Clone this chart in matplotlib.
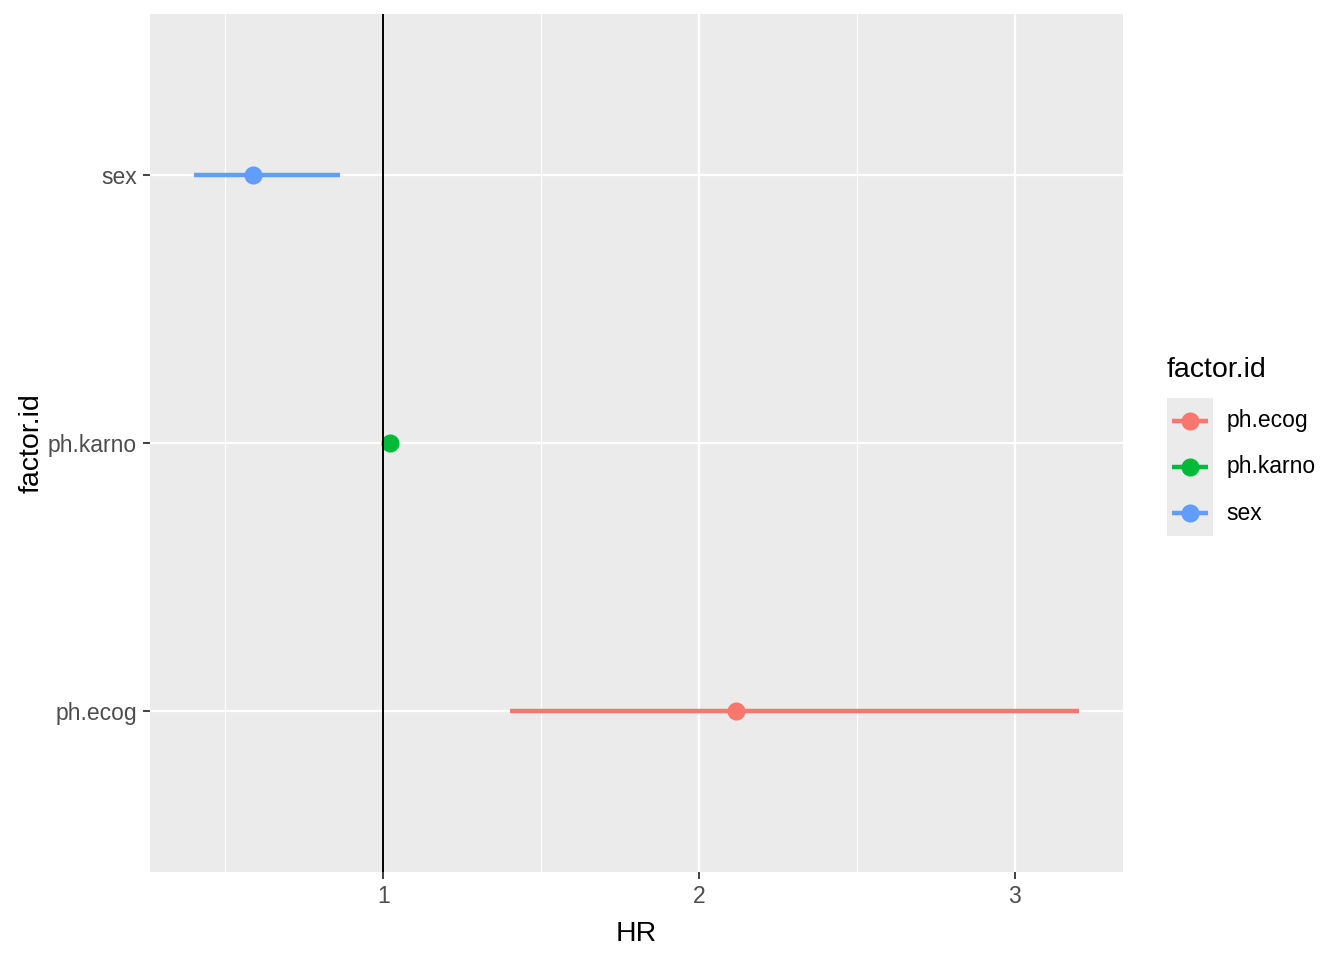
import matplotlib.pyplot as plt
from matplotlib.patches import Rectangle

plt.rcParams['font.family'] = ['Liberation Sans', 'DejaVu Sans']

# данные: HR и доверительные интервалы
factors = ['ph.ecog', 'ph.karno', 'sex']
hr = [2.116, 1.022, 0.588]
lower = [1.40, 1.005, 0.401]
upper = [3.203, 1.040, 0.864]
colors = ['#F8766D', '#00BA38', '#619CFF']

W, H = 1344, 960
fig = plt.figure(figsize=(W / 100, H / 100), dpi=100)
ax = fig.add_axes([150 / W, 1 - 872 / H, (1123 - 150) / W, (872 - 14) / H])
ax.set_facecolor('#EBEBEB')

ypos = list(range(len(factors)))
for y, c, lo, hi, h in zip(ypos, colors, lower, upper, hr):
    ax.plot([lo, hi], [y, y], color=c, lw=3.2, solid_capstyle='butt', zorder=3)
    ax.plot(h, y, 'o', color=c, ms=12, zorder=4)

ax.axvline(1, color='black', lw=1.4, zorder=5)

lo_all, hi_all = min(lower), max(upper)
pad = (hi_all - lo_all) * 0.05
ax.set_xlim(lo_all - pad, hi_all + pad)
ax.set_ylim(-0.6, len(factors) - 0.4)

ax.set_xticks([1, 2, 3])
ax.set_xticks([0.5, 1.5, 2.5], minor=True)
ax.set_yticks(ypos)
ax.set_yticklabels(factors)
ax.grid(True, which='major', color='white', lw=1.6, zorder=0)
ax.grid(True, which='minor', axis='x', color='white', lw=0.8, zorder=0)
ax.set_axisbelow(True)
for s in ax.spines.values():
    s.set_visible(False)
ax.tick_params(which='major', length=5, width=1.3, color='#333333',
               labelcolor='#4D4D4D', labelsize=16.5, pad=4.5)
ax.tick_params(which='minor', length=0)
ax.set_xlabel('HR', fontsize=20.5, labelpad=9)
ax.set_ylabel('factor.id', fontsize=20.5, labelpad=2)

# легенда
lax = fig.add_axes([1167 / W, 1 - 536 / H, 46 / W, 138 / H])
lax.set_xlim(0, 1)
lax.set_ylim(0, 3)
lax.axis('off')
lax.add_patch(Rectangle((0, 0), 1, 3, color='#EBEBEB', zorder=0))
for i, (name, c) in enumerate(zip(factors, colors)):
    yy = 2.5 - i
    lax.plot([0.1, 0.9], [yy, yy], color=c, lw=3.2, solid_capstyle='butt')
    lax.plot(0.5, yy, 'o', color=c, ms=12)
    lax.text(1.3, yy, name, fontsize=16.5, va='center', ha='left', clip_on=False)
fig.text(1167 / W, 1 - 370 / H, 'factor.id', fontsize=20.5, va='center', ha='left')

fig.savefig('out.png', dpi=100)
